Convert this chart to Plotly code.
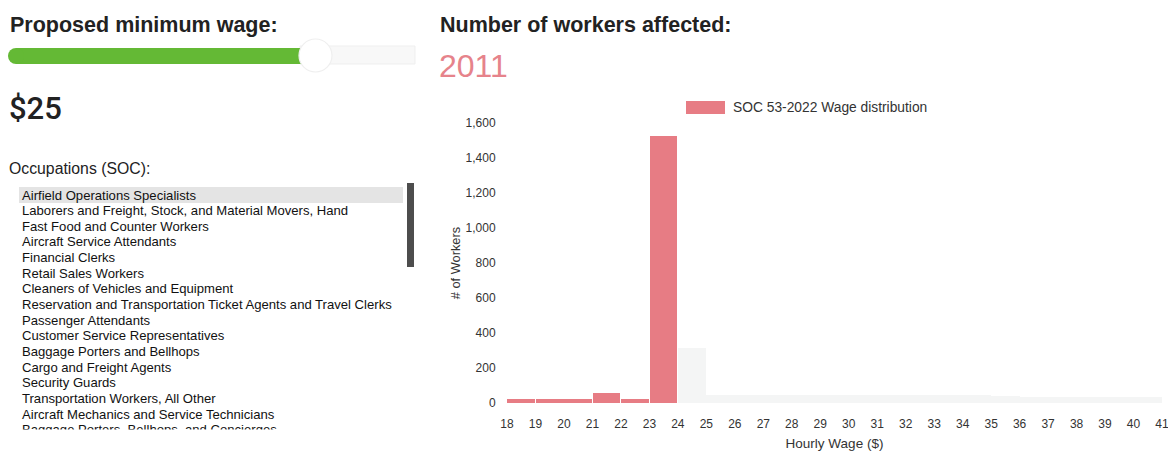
import plotly.graph_objects as go

# ---------------- data ----------------
affected_bin_start = [18, 19, 20, 21, 22, 23]
affected_counts = [25, 25, 25, 55, 22, 1525]
other_bin_start = [24, 25, 26, 27, 28, 29, 30, 31, 32, 33, 34, 35, 36, 37, 38, 39, 40]
other_counts = [315, 45, 45, 45, 45, 45, 45, 45, 45, 45, 45, 40, 35, 35, 35, 35, 35]
x_ticks = list(range(18, 42))
y_ticks = [0, 200, 400, 600, 800, 1000, 1200, 1400, 1600]
occupations = [
    "Airfield Operations Specialists",
    "Laborers and Freight, Stock, and Material Movers, Hand",
    "Fast Food and Counter Workers",
    "Aircraft Service Attendants",
    "Financial Clerks",
    "Retail Sales Workers",
    "Cleaners of Vehicles and Equipment",
    "Reservation and Transportation Ticket Agents and Travel Clerks",
    "Passenger Attendants",
    "Customer Service Representatives",
    "Baggage Porters and Bellhops",
    "Cargo and Freight Agents",
    "Security Guards",
    "Transportation Workers, All Other",
    "Aircraft Mechanics and Service Technicians",
    "Baggage Porters, Bellhops, and Concierges",
]
proposed_wage = 25
workers_affected = 2011
legend_label = "SOC 53-2022 Wage distribution"

W, H = 1168, 451
RED = "#e77c84"
FONT = "Liberation Sans, Arial, Helvetica, sans-serif"
TXT_DX = -2   # compensation for annotation inner padding


def px(x):
    return x / W


def py(y):
    return 1 - y / H


def rect(x0, x1, y0, y1, fill, kind="rect", line=None, layer="below"):
    return dict(type=kind, xref="paper", yref="paper", x0=px(x0), x1=px(x1), y0=py(y1), y1=py(y0),
                fillcolor=fill, line=line or dict(width=0), layer=layer)


def label(text, x, y, size, color="#222222", weight="normal", family=FONT):
    return dict(text=text, xref="paper", yref="paper", x=px(x + TXT_DX), y=py(y), xanchor="left", yanchor="middle",
                font=dict(family=family, size=size, color=color, weight=weight), showarrow=False)


fig = go.Figure()
fig.add_trace(go.Bar(
    x=[b + 0.5 for b in other_bin_start], y=other_counts, width=1,
    marker=dict(color="#f4f5f5", line=dict(width=0)), showlegend=False,
    hoverinfo="skip",
))
fig.add_trace(go.Bar(
    x=[b + 0.5 for b in affected_bin_start], y=affected_counts, width=0.97,
    marker=dict(color=RED, line=dict(width=0)), name=legend_label, showlegend=False,
))

shapes = []
annotations = []

# ---- left panel ----
annotations.append(label("Proposed minimum wage:", 10, 25, 21.5, weight="bold"))
# slider tracks and thumb
shapes.append(rect(300, 415, 46, 64, "#f8f8f8", line=dict(color="#efefef", width=1)))
shapes.append(rect(16, 305, 48, 64, "#64b935"))
shapes.append(rect(8, 24, 48, 64, "#64b935", kind="circle"))
shapes.append(rect(299, 332, 39, 72, "#ffffff", kind="circle", line=dict(color="#efefef", width=1.2)))

annotations.append(label(f"${proposed_wage}", 9, 108, 31, weight=500, family="Roboto, " + FONT))
annotations.append(label("Occupations (SOC):", 9, 168, 15.8))
# list highlight + scrollbar
shapes.append(rect(19, 403, 187, 203, "#e4e4e4"))
shapes.append(rect(407, 414, 183, 267, "#4d4d4d"))
for i, occ in enumerate(occupations):
    annotations.append(label(occ, 22, 195 + 15.65 * i, 13.1, color="#111111"))
# list box bottom edge hides the partly scrolled last row
annotations.append(dict(text=" ", xref="paper", yref="paper", x=px(12), y=py(429), xanchor="left", yanchor="top",
                        width=410, height=22, bgcolor="white", showarrow=False, borderpad=0,
                        font=dict(size=4)))

# ---- right panel headings ----
annotations.append(label("Number of workers affected:", 440, 25, 21.5, weight="bold"))
annotations.append(label(str(workers_affected), 439, 66, 32, color="#e6838b"))

# ---- legend (chart.js style) ----
shapes.append(rect(686, 725, 101, 114, RED, layer="above"))
annotations.append(label(legend_label, 733, 107.5, 13.8, color="#333333"))

fig.update_layout(
    width=W, height=H, autosize=False,
    margin=dict(l=0, r=0, t=0, b=0, autoexpand=False),
    paper_bgcolor="white", plot_bgcolor="white",
    barmode="overlay", bargap=0,
    shapes=shapes, annotations=annotations,
    font=dict(family=FONT, color="#333333"),
    showlegend=False,
    xaxis=dict(domain=[px(507), px(1162)], range=[18, 41.0001], tickmode="array", tickvals=x_ticks,
               ticktext=[str(v) for v in x_ticks], showgrid=False, zeroline=False, showline=False,
               automargin=False, ticklabeloverflow="allow",
               ticks="outside", ticklen=10, tickcolor="rgba(0,0,0,0)", tickfont=dict(size=12, color="#333333"),
               title=dict(text="Hourly Wage ($)", font=dict(size=13.5, color="#333333"), standoff=8),
               fixedrange=True),
    yaxis=dict(domain=[py(403), py(123)], range=[0, 1600], tickmode="array", tickvals=y_ticks,
               tickformat=",", showgrid=False, zeroline=False, showline=False,
               automargin=False,
               ticks="outside", ticklen=8, tickcolor="rgba(0,0,0,0)", tickfont=dict(size=12, color="#333333"),
               title=dict(text="# of Workers", font=dict(size=12.8, color="#333333"), standoff=2),
               fixedrange=True),
)

fig.write_html("out.html", config={"displayModeBar": False},
               post_script="document.body.style.margin='0';")
